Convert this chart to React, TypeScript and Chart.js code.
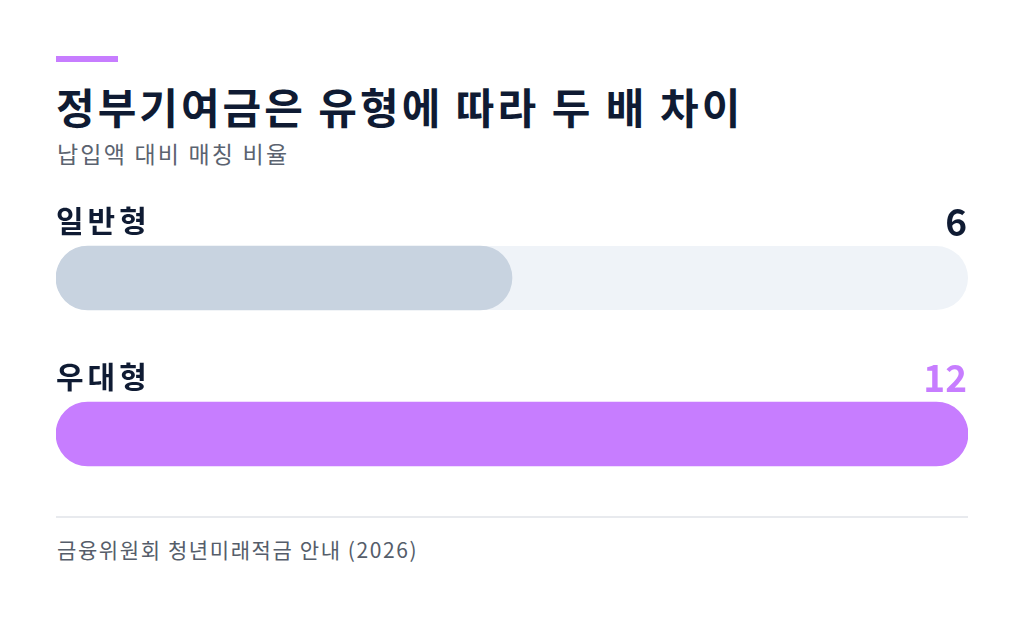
import React, { useEffect, useRef } from 'react';
import { Chart, registerables } from 'chart.js';

Chart.register(...registerables);

const categories = ['일반형', '우대형'];
const matchValues = [6, 12];
const maxValue = 12;
const barColors = ['#c8d3e0', '#c77dff'];
const valueColors = ['#0f1b33', '#c77dff'];
const trackColor = '#eff3f8';

const FONT = '"Noto Sans CJK KR", "Noto Sans", sans-serif';

// draws the grey track behind each bar, plus the label / value above it
const barDecorations = {
  id: 'barDecorations',
  beforeDatasetsDraw(chart: any) {
    const { ctx, chartArea } = chart;
    const meta = chart.getDatasetMeta(0);
    ctx.save();
    ctx.fillStyle = trackColor;
    meta.data.forEach((bar: any) => {
      const h = bar.height;
      ctx.beginPath();
      ctx.roundRect(chartArea.left, bar.y - h / 2, chartArea.right - chartArea.left, h, h / 2);
      ctx.fill();
    });
    ctx.restore();
  },
  afterDatasetsDraw(chart: any) {
    const { ctx, chartArea } = chart;
    const meta = chart.getDatasetMeta(0);
    ctx.save();
    ctx.textBaseline = 'alphabetic';
    meta.data.forEach((bar: any, i: number) => {
      const top = bar.y - bar.height / 2;
      ctx.fillStyle = '#0f1b33';
      ctx.textAlign = 'left';
      ctx.font = `bold 30px ${FONT}`;
      ctx.letterSpacing = '4px';
      ctx.fillText(categories[i], chartArea.left, top - 14);
      ctx.fillStyle = valueColors[i];
      ctx.textAlign = 'right';
      ctx.font = `bold 37px ${FONT}`;
      ctx.letterSpacing = '0px';
      ctx.fillText(String(matchValues[i]), chartArea.right - 1, top - 10);
    });
    ctx.restore();
  },
};

const MatchBars: React.FC = () => {
  const canvasRef = useRef<HTMLCanvasElement>(null);

  useEffect(() => {
    if (!canvasRef.current) return;
    const chart = new Chart(canvasRef.current, {
      type: 'bar',
      data: {
        labels: categories,
        datasets: [{
          data: matchValues,
          backgroundColor: barColors,
          barThickness: 64,
          borderRadius: 32,
          borderSkipped: false,
        }],
      },
      options: {
        indexAxis: 'y',
        animation: false,
        responsive: false,
        maintainAspectRatio: false,
        layout: { padding: 0 },
        plugins: { legend: { display: false }, tooltip: { enabled: false } },
        scales: {
          x: { display: false, min: 0, max: maxValue },
          y: { display: false },
        },
      },
      plugins: [barDecorations],
    });
    return () => chart.destroy();
  }, []);

  return <canvas ref={canvasRef} width={912} height={312} style={{ position: 'absolute', left: 56, top: 199.5 }} />;
};

const App: React.FC = () => {
  return (
    <div style={{ position: 'fixed', left: 0, top: 0, width: 1024, height: 617, background: '#fff', fontFamily: FONT, overflow: 'hidden' }}>
      <div style={{ position: 'absolute', left: 56, top: 56, width: 62, height: 6, background: '#c77dff' }} />
      <div style={{ position: 'absolute', left: 56, top: 78, fontSize: 42, fontWeight: 700, color: '#0f1b33', whiteSpace: 'nowrap', lineHeight: '56px', letterSpacing: 3 }}>
        정부기여금은 유형에 따라 두 배 차이
      </div>
      <div style={{ position: 'absolute', left: 57, top: 138, fontSize: 23, color: '#5b6370', whiteSpace: 'nowrap', lineHeight: '30px', letterSpacing: 2.2 }}>
        납입액 대비 매칭 비율
      </div>
      <MatchBars />
      <div style={{ position: 'absolute', left: 56, top: 516, width: 912, height: 2, background: '#e8eaee' }} />
      <div style={{ position: 'absolute', left: 57, top: 535, fontSize: 21, color: '#555d6a', whiteSpace: 'nowrap', lineHeight: '28px', letterSpacing: 1.6 }}>
        금융위원회 청년미래적금 안내 (2026)
      </div>
    </div>
  );
};

export default App;
